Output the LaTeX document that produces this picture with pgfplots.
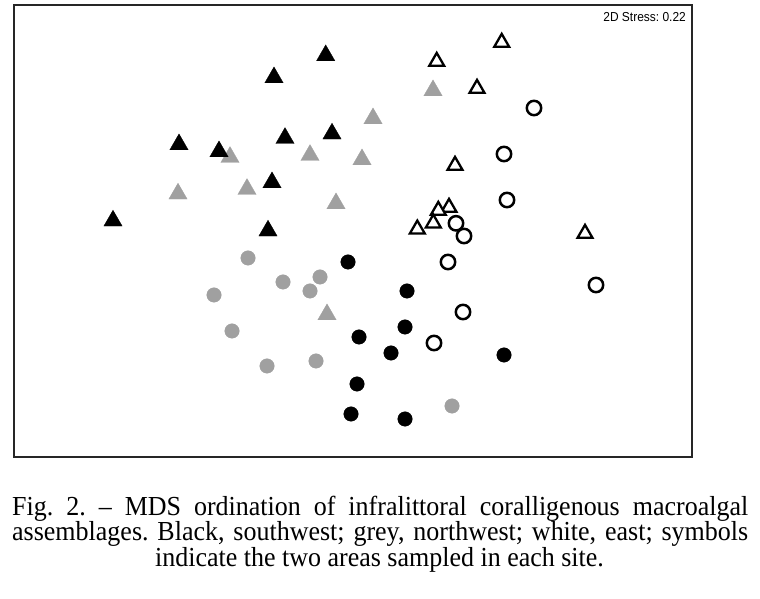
\documentclass[border=0pt]{standalone}
\usepackage{pgfplots}
\pgfplotsset{compat=1.18}
\usepackage{fontspec}
\setmainfont{Liberation Serif}[FakeStretch=0.945]
\newfontfamily\arial{Liberation Sans}[FakeStretch=0.92]
\definecolor{mdsgrey}{RGB}{160,160,160}
\frenchspacing
\begin{document}
\begin{tikzpicture}[x=1bp,y=1bp]
\path[use as bounding box] (0,0) rectangle (760,599);
\begin{axis}[
  at={(14bp,142bp)}, anchor=south west,
  scale only axis, width=678bp, height=452bp,
  xmin=14, xmax=692, ymin=5, ymax=457, y dir=reverse,
  axis line style={line width=1.6bp, black!85},
  xtick=\empty, ytick=\empty,
  clip=false,
]
% grey circles
\addplot[only marks, mark=*, mark size=7.3bp, mark options={fill=mdsgrey, draw=mdsgrey, line width=0.3bp}] coordinates {
(248,258) (283,282) (320,277) (310,291) (214,295) (232,331) (267,366) (316,361) (452,406)};
% black circles
\addplot[only marks, mark=*, mark size=7.3bp, mark options={fill=black, draw=black, line width=0.3bp}] coordinates {
(348,262) (407,291) (405,327) (359,337) (391,353) (504,355) (357,384) (351,414) (405,419)};
% grey triangles
\addplot[only marks, mark=triangle*, mark size=10.6bp, mark options={fill=mdsgrey, draw=mdsgrey, line width=0.3bp}] coordinates {
(373,118.5) (230,157.2) (310,155.2) (362,159.5) (178,193.8) (247,189.2) (336,203.5) (433,90.5) (327,314.5)};
% black triangles
\addplot[only marks, mark=triangle*, mark size=10.6bp, mark options={fill=black, draw=black, line width=0.3bp}] coordinates {
(325.7,55.5) (274,77.5) (179,144.5) (219,151.5) (285,138.2) (332,133.8) (272,182.5) (113,220.8) (268,230.8)};
% white triangles
\addplot[only marks, mark=triangle*, mark size=8.6bp, mark options={fill=white, draw=black, line width=2.3bp}] coordinates {
(501.7,42.5) (436.7,61.5) (477,88.5) (455,165.5) (449,207.5) (438.3,210.5) (433.3,223.2) (417.3,229.2) (585,233.5)};
% white circles
\addplot[only marks, mark=*, mark size=7.2bp, mark options={fill=white, draw=black, line width=2.5bp}] coordinates {
(534,108) (504,154) (507,200) (456,223.3) (464,236) (448,262) (596,285) (463,312) (434,343)};
\node[anchor=base east, inner sep=0pt, font=\arial\fontsize{13bp}{15bp}\selectfont] at (axis cs:686,21.5) {2D Stress: 0.22};
\end{axis}
\begin{scope}[every node/.style={inner sep=0pt, font=\fontsize{27.5bp}{29bp}\selectfont}]
\node[anchor=base west] at (12,83) {\makebox[736bp][s]{Fig. 2. – MDS ordination of infralittoral coralligenous macroalgal}};
\node[anchor=base west] at (12,58) {\makebox[736bp][s]{assemblages. Black, southwest; grey, northwest; white, east; symbols}};
\node[anchor=base] at (379.5,32) {indicate the two areas sampled in each site.};
\end{scope}
\end{tikzpicture}
\end{document}
